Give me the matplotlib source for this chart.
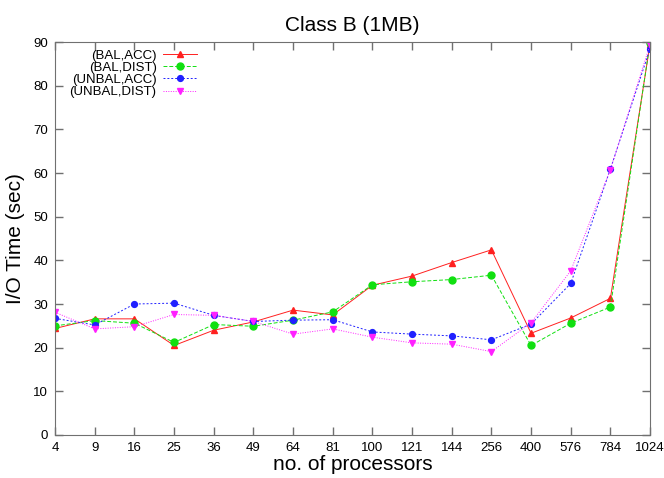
import numpy as np
import matplotlib
matplotlib.use("Agg")
import matplotlib.pyplot as plt

plt.rcParams["font.family"] = ["Liberation Sans", "DejaVu Sans"]

processors = ["4", "9", "16", "25", "36", "49", "64", "81", "100",
              "121", "144", "256", "400", "576", "784", "1024"]

bal_acc = [24.4, 26.6, 26.6, 20.5, 24.0, 25.9, 28.6, 27.5, 34.3,
           36.4, 39.5, 42.4, 23.3, 26.8, 31.3, 89.6]
bal_dist = [25.0, 26.2, 25.6, 21.2, 25.3, 24.9, 26.3, 28.2, 34.4,
            35.1, 35.6, 36.6, 20.5, 25.6, 29.3, 89.9]
unbal_acc = [26.7, 25.2, 30.0, 30.2, 27.4, 26.0, 26.3, 26.4, 23.6,
             23.1, 22.7, 21.8, 25.4, 34.7, 60.9, 88.5]
unbal_dist = [28.1, 24.3, 24.8, 27.6, 27.4, 26.0, 23.1, 24.3, 22.4,
              21.1, 20.8, 19.1, 25.7, 37.6, 60.8, 89.4]

x = np.arange(len(processors))

fig = plt.figure(figsize=(6.64, 4.78), dpi=100)
ax = fig.add_axes([0.083, 0.09, 0.896, 0.822])

ax.plot(x, bal_acc, color="#ff2020", ls="-", lw=0.7, marker="^", ms=4.5, label="(BAL,ACC)")
ax.plot(x, bal_dist, color="#10e010", ls=(0, (4, 2)), lw=0.7, marker="o", ms=5, label="(BAL,DIST)")
ax.plot(x, unbal_acc, color="#2020ff", ls=(0, (2, 2)), lw=0.7, marker="o", ms=4.2, label="(UNBAL,ACC)")
ax.plot(x, unbal_dist, color="#ff20ff", ls=(0, (1, 1.5)), lw=0.7, marker="v", ms=4.5, label="(UNBAL,DIST)")

ax.set_xlim(0, len(processors) - 1)
ax.set_ylim(0, 90)
ax.set_xticks(x)
ax.set_xticklabels(processors)
ax.set_yticks(np.arange(0, 91, 10))
ax.tick_params(direction="in", length=6, width=1, color="#707070",
               top=True, right=True, labelsize=9.5, pad=5)
for s in ax.spines.values():
    s.set_color("#707070")

ax.set_title("Class B (1MB)", fontsize=15, pad=8)
ax.set_xlabel("no. of processors", fontsize=15, labelpad=1)
ax.set_ylabel("I/O Time (sec)", fontsize=15, labelpad=6)

ax.legend(loc="upper left", bbox_to_anchor=(0.012, 1.0), markerfirst=False,
          frameon=False, fontsize=9.5, handlelength=2.6, labelspacing=0.0,
          handletextpad=0.5, borderaxespad=0.15)

fig.savefig("out.png", dpi=100)
